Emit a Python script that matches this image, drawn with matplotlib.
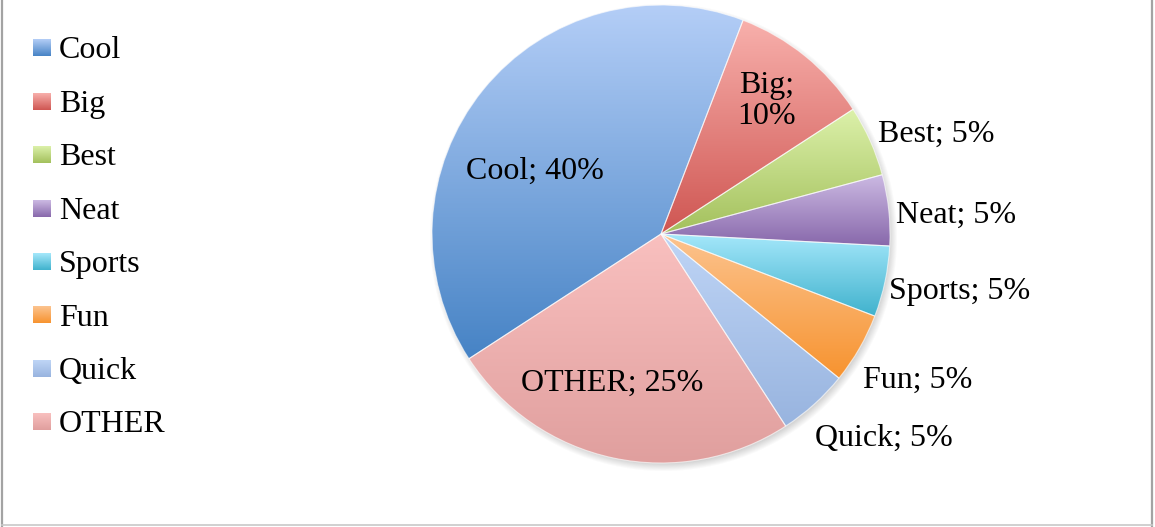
import numpy as np
import matplotlib
matplotlib.use("Agg")
import matplotlib.pyplot as plt
from matplotlib.colors import to_rgb

# ---- data ----
categories = ["Cool", "Big", "Best", "Neat", "Sports", "Fun", "Quick", "OTHER"]
values = [40, 10, 5, 5, 5, 5, 5, 25]

# ---- style ----
top_colors = ["#b4cef7", "#f8b0ac", "#dcf1aa", "#ccbae3", "#a6e8fb", "#fcc490", "#bfd5f6", "#f9c0bf"]
bottom_colors = ["#4683c5", "#cf5652", "#a3c05c", "#8868ab", "#40b2cd", "#f7932f", "#98b4df", "#e09f9e"]
label_pos = [(535, 168, "center"), (767, 101, "center"), (878, 131, "left"), (896, 212, "left"),
             (889, 289, "left"), (863, 377, "left"), (815, 435, "left"), (612, 380, "center")]
FONT = "Liberation Serif"
FS = 23

W, H = 1155, 527
fig = plt.figure(figsize=(W / 100, H / 100), dpi=100)
ax = fig.add_axes([0, 0, 1, 1])

cx, cy, R = 661, H - 234, 229

# soft shadow
yy, xx = np.mgrid[0:H, 0:W]
d = np.hypot(xx - (cx + 2), (H - yy) - (cy - 3))
alpha = np.clip((R + 5 - d) / 8.0, 0, 1) * 0.30
shadow = np.zeros((H, W, 4))
shadow[..., :3] = 0.45
shadow[..., 3] = alpha
ax.imshow(shadow, extent=(0, W, 0, H), origin="upper", zorder=0, interpolation="bilinear")

wedges, _ = ax.pie(values, center=(cx, cy), radius=R, startangle=-147, counterclock=False,
                   wedgeprops=dict(facecolor="none", edgecolor="none"), frame=True)

def gradient(top, bottom, n=256):
    t = np.linspace(0, 1, n)[:, None]
    a = np.array(to_rgb(top)); b = np.array(to_rgb(bottom))
    return (a + (b - a) * t)[:, None, :]

for w, tc, bc in zip(wedges, top_colors, bottom_colors):
    th = np.radians(np.linspace(w.theta1, w.theta2, 300))
    px = np.concatenate([[cx], cx + R * np.cos(th)])
    py = np.concatenate([[cy], cy + R * np.sin(th)])
    im = ax.imshow(gradient(tc, bc), extent=(px.min(), px.max(), py.min(), py.max()),
                   origin="upper", aspect="auto", zorder=1, interpolation="bilinear")
    im.set_clip_path(w)
    w.set_edgecolor((1, 1, 1, 0.6))
    w.set_linewidth(0.8)
    w.set_zorder(2)

for cat, v, (lx, ly, ha) in zip(categories, values, label_pos):
    txt = f"{cat}; {v}%" if cat != "Big" else f"{cat};\n{v}%"
    if "\n" in txt:
        ax.text(lx, H - ly, txt, ha="center", va="center", family=FONT, fontsize=FS,
                linespacing=1.05, zorder=3)
    else:
        ax.text(lx, H - ly - 10.5, txt, ha=ha, va="baseline", family=FONT, fontsize=FS, zorder=3)

# legend
for i, (cat, tc, bc) in enumerate(zip(categories, top_colors, bottom_colors)):
    yc = H - (48 + i * 53.4)
    ax.imshow(gradient(tc, bc), extent=(33, 51, yc - 8.5, yc + 8.5), origin="upper",
              aspect="auto", zorder=3, interpolation="bilinear")
    ax.text(59, yc - 10.5, cat, ha="left", va="baseline", family=FONT, fontsize=FS, zorder=3)

# frame lines
ax.plot([2, 2], [0, H], color="#a3a3a3", lw=1.6, zorder=5)
ax.plot([1152, 1152], [0, H], color="#a3a3a3", lw=1.6, zorder=5)
ax.plot([2, 1152], [H - 525, H - 525], color="#c8c8c8", lw=1.2, zorder=5)

ax.set_xlim(0, W)
ax.set_ylim(0, H)
ax.set_aspect("equal")
ax.axis("off")
fig.savefig("out.png", dpi=100)
